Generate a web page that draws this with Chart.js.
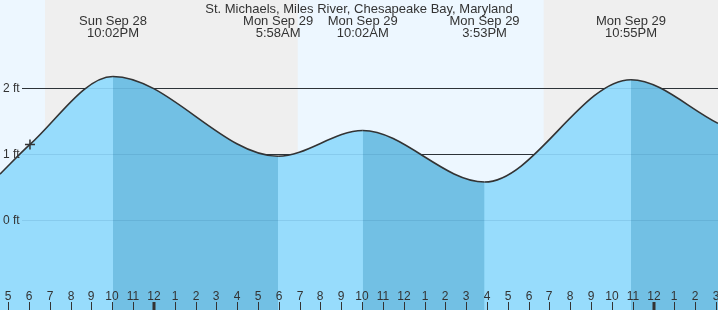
<!DOCTYPE html>
<html>
<head>
<meta charset="utf-8">
<script src="https://cdn.jsdelivr.net/npm/chart.js@4/dist/chart.umd.min.js"></script>
<style>
html,body{margin:0;padding:0;background:#fff;}
canvas{display:block;}
</style>
</head>
<body>
<canvas id="c" width="718" height="310"></canvas>
<script>
// ---- data (hours relative to midnight Sep 29) ----
const chartTitle = 'St. Michaels, Miles River, Chesapeake Bay, Maryland';
const curveHours   = [-7.393, -5.953, -1.967, 5.967, 10.033, 15.883, 22.917, 27.098];
const curveHeights = [0.70, 1.15, 2.18, 0.97, 1.36, 0.58, 2.13, 1.47];
const tideHours  = [-1.967, 5.967, 10.033, 15.883, 22.917];
const tideDates  = ['Sun Sep 28', 'Mon Sep 29', 'Mon Sep 29', 'Mon Sep 29', 'Mon Sep 29'];
const tideTimes  = ['10:02PM', '5:58AM', '10:02AM', '3:53PM', '10:55PM'];
const nowHour = -5.953;
const nowHeight = 1.15;
const nightStarts = [-5.231, 18.725];
const nightEnds   = [6.908, 27.2];
const hourLabels = ['5','6','7','8','9','10','11','12','1','2','3','4','5','6','7','8','9','10','11','12','1','2','3','4','5','6','7','8','9','10','11','12','1','2','3'];
const hourStart = -7;
const midnightHours = [0, 24];
const yTickValues = [0, 1, 2];
const yTickLabels = ['0 ft', '1 ft', '2 ft'];

const X_MIN = -7.393, X_MAX = 27.098, Y_MIN = -1.359, Y_MAX = 3.338;
const LIGHT = 'rgb(151,220,252)';
const DARK = 'rgb(114,192,228)';
const INK = '#333333';
const FONT = '"Liberation Sans", Arial, sans-serif';

const curveData = curveHours.map((h, i) => ({x: h, y: curveHeights[i]}));

const decor = {
  id: 'decor',
  beforeDraw(chart) {
    const {ctx, chartArea: a, scales: {x}} = chart;
    ctx.save();
    ctx.fillStyle = '#edf7ff';
    ctx.fillRect(a.left, a.top, a.right - a.left, a.bottom - a.top);
    ctx.fillStyle = '#efefef';
    nightStarts.forEach((s, i) => {
      const x0 = Math.max(a.left, x.getPixelForValue(s));
      const x1 = Math.min(a.right, x.getPixelForValue(nightEnds[i]));
      ctx.fillRect(x0, a.top, x1 - x0, a.bottom - a.top);
    });
    ctx.restore();
  },
  beforeDatasetsDraw(chart) {
    const {ctx, chartArea: a, scales: {y}} = chart;
    ctx.save();
    ctx.strokeStyle = INK;
    ctx.lineWidth = 1;
    yTickValues.forEach(v => {
      const py = Math.round(y.getPixelForValue(v)) + 0.5;
      ctx.beginPath(); ctx.moveTo(22, py); ctx.lineTo(a.right, py); ctx.stroke();
    });
    ctx.restore();
  },
  afterDatasetsDraw(chart) {
    const {ctx, chartArea: a, scales: {y}} = chart;
    ctx.save();
    ctx.strokeStyle = 'rgba(0,60,110,0.10)';
    ctx.lineWidth = 1;
    yTickValues.forEach(v => {
      const py = Math.round(y.getPixelForValue(v)) + 0.5;
      ctx.beginPath(); ctx.moveTo(22, py); ctx.lineTo(a.right, py); ctx.stroke();
    });
    ctx.restore();
  },
  afterDraw(chart) {
    const {ctx, chartArea: a, scales: {x, y}} = chart;
    ctx.save();
    ctx.fillStyle = INK;
    ctx.font = '13px ' + FONT;
    ctx.textAlign = 'center';
    ctx.textBaseline = 'alphabetic';
    ctx.fillText(chartTitle, 359, 12.5);
    tideHours.forEach((h, i) => {
      const px = x.getPixelForValue(h);
      ctx.fillText(tideDates[i], px, 25);
      ctx.fillText(tideTimes[i], px, 37);
    });
    ctx.font = '12px ' + FONT;
    ctx.textAlign = 'left';
    ctx.textBaseline = 'middle';
    yTickValues.forEach((v, i) => {
      ctx.fillText(yTickLabels[i], 3, y.getPixelForValue(v));
    });
    ctx.textAlign = 'center';
    ctx.textBaseline = 'alphabetic';
    ctx.strokeStyle = INK;
    hourLabels.forEach((lab, i) => {
      const h = hourStart + i;
      const px = Math.round(x.getPixelForValue(h));
      ctx.fillText(lab, px, 300);
      const mid = midnightHours.includes(h);
      ctx.lineWidth = mid ? 3 : 1;
      const lx = mid ? px : px + 0.5;
      ctx.beginPath(); ctx.moveTo(lx, 302); ctx.lineTo(lx, a.bottom); ctx.stroke();
    });
    ctx.restore();
  }
};

new Chart(document.getElementById('c'), {
  type: 'line',
  data: {
    datasets: [
      {
        data: [{x: nowHour, y: nowHeight}],
        showLine: false,
        pointStyle: 'cross',
        pointRadius: 5,
        pointBorderWidth: 1.5,
        pointBorderColor: INK,
        fill: false
      },
      {
        data: curveData,
        borderColor: INK,
        borderWidth: 1.6,
        backgroundColor: 'rgba(0,0,0,0)',
        fill: 'start',
        pointRadius: 0,
        cubicInterpolationMode: 'monotone',
        segment: {
          backgroundColor: c => (c.p1.parsed.y < c.p0.parsed.y ? DARK : 'rgba(0,0,0,0)')
        }
      },
      {
        data: curveData,
        borderWidth: 0,
        borderColor: 'rgba(0,0,0,0)',
        backgroundColor: LIGHT,
        fill: 'start',
        pointRadius: 0,
        cubicInterpolationMode: 'monotone'
      }
    ]
  },
  options: {
    responsive: false,
    animation: false,
    devicePixelRatio: 1,
    layout: {padding: 0, autoPadding: false},
    events: [],
    scales: {
      x: {type: 'linear', min: X_MIN, max: X_MAX, display: false},
      y: {type: 'linear', min: Y_MIN, max: Y_MAX, display: false}
    },
    plugins: {legend: {display: false}, tooltip: {enabled: false}, title: {display: false}}
  },
  plugins: [decor]
});
</script>
</body>
</html>
